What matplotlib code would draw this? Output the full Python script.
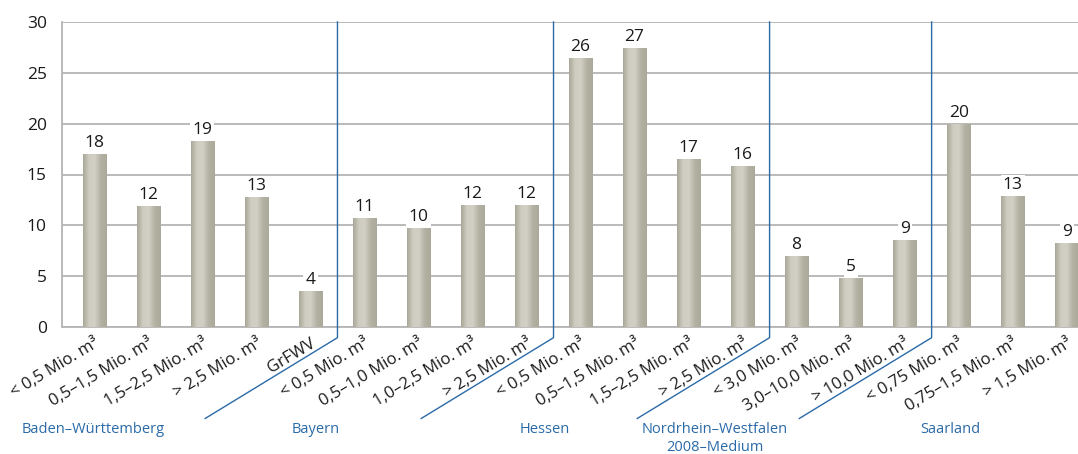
import numpy as np
import matplotlib
matplotlib.use("Agg")
import matplotlib.pyplot as plt
from matplotlib.colors import LinearSegmentedColormap

plt.rcParams['font.family'] = ['Open Sans', 'DejaVu Sans']

# Daten
categories = ['< 0,5 Mio. m³', '0,5–1,5 Mio. m³', '1,5–2,5 Mio. m³', '> 2,5 Mio. m³', 'GrFWV',
              '< 0,5 Mio. m³', '0,5–1,0 Mio. m³', '1,0–2,5 Mio. m³', '> 2,5 Mio. m³',
              '< 0,5 Mio. m³', '0,5–1,5 Mio. m³', '1,5–2,5 Mio. m³', '> 2,5 Mio. m³',
              '< 3,0 Mio. m³', '3,0–10,0 Mio. m³', '> 10,0 Mio. m³',
              '< 0,75 Mio. m³', '0,75–1,5 Mio. m³', '> 1,5 Mio. m³']
values = [17.0, 11.9, 18.3, 12.8, 3.5,
          10.7, 9.7, 12.0, 12.0,
          26.5, 27.4, 16.5, 15.8,
          7.0, 4.8, 8.6,
          19.95, 12.9, 8.25]
labels = [18, 12, 19, 13, 4,
          11, 10, 12, 12,
          26, 27, 17, 16,
          8, 5, 9,
          20, 13, 9]
groups = ['Baden–Württemberg', 'Bayern', 'Hessen', 'Nordrhein–Westfalen\n2008–Medium', 'Saarland']
group_sizes = [5, 4, 4, 3, 3]

# Lage der Gruppentitel (Achsenkoordinaten x)
group_label_x = [-0.03, 4.1, 8.34, 11.49, 15.84]

blue = '#2a6aa8'
grid_col = '#b4b4b4'

fig = plt.figure(figsize=(10.78, 4.54), dpi=100)
ax = fig.add_axes([62 / 1078, 1 - 327 / 454, 1 - 62 / 1078, 305 / 454])

x = np.arange(len(values))
bars = ax.bar(x, values, width=0.43, color='#bdbbad', zorder=3)

# Zylinder-Verlauf
cmap = LinearSegmentedColormap.from_list('cyl', ['#a9a797', '#cfcdc1', '#d2d0c5', '#b3b1a3', '#aba999'])
grad = np.linspace(0, 1, 64).reshape(1, -1)
for b in bars:
    im = ax.imshow(grad, cmap=cmap, aspect='auto', zorder=3.5,
                   extent=[b.get_x(), b.get_x() + b.get_width(), 0, b.get_height()])
    im.set_clip_path(b)

for xi, v, lab in zip(x, values, labels):
    ax.text(xi, v + 0.3, str(lab), ha='center', va='bottom', fontsize=12.5, color='#1a1a1a', zorder=5,
            bbox=dict(facecolor='white', edgecolor='none', pad=1.5))

ax.set_xlim(-0.6, 18.21)
ax.set_ylim(0, 30)
ax.set_yticks(range(0, 31, 5))
ax.yaxis.grid(True, color=grid_col, linewidth=1.3, zorder=0)
ax.set_axisbelow(True)
for s in ['top', 'right']:
    ax.spines[s].set_visible(False)
for s in ['left', 'bottom']:
    ax.spines[s].set_color(grid_col)
    ax.spines[s].set_linewidth(1.3)
ax.tick_params(axis='y', length=0, labelsize=12.5, colors='#1a1a1a', pad=11)

ax.set_xticks(x)
ax.set_xticklabels(categories, rotation=31, ha='right', va='top', rotation_mode='anchor', fontsize=12)
ax.tick_params(axis='x', length=0, colors='#1a1a1a', pad=6)

# Trennlinien und Gruppen
start = 0
for i, (g, n) in enumerate(zip(groups, group_sizes)):
    ax.text(group_label_x[i], -0.31, g, transform=ax.get_xaxis_transform(),
            ha='center', va='top', fontsize=10.5, color=blue, linespacing=1.3)
    start += n
    if i < len(groups) - 1:
        xd = start - 0.5
        ax.plot([xd, xd, xd - 2.45], [1.0, -0.035, -0.30], transform=ax.get_xaxis_transform(),
                color=blue, linewidth=1.0, clip_on=False, zorder=6)

fig.savefig('out.png', dpi=100)
